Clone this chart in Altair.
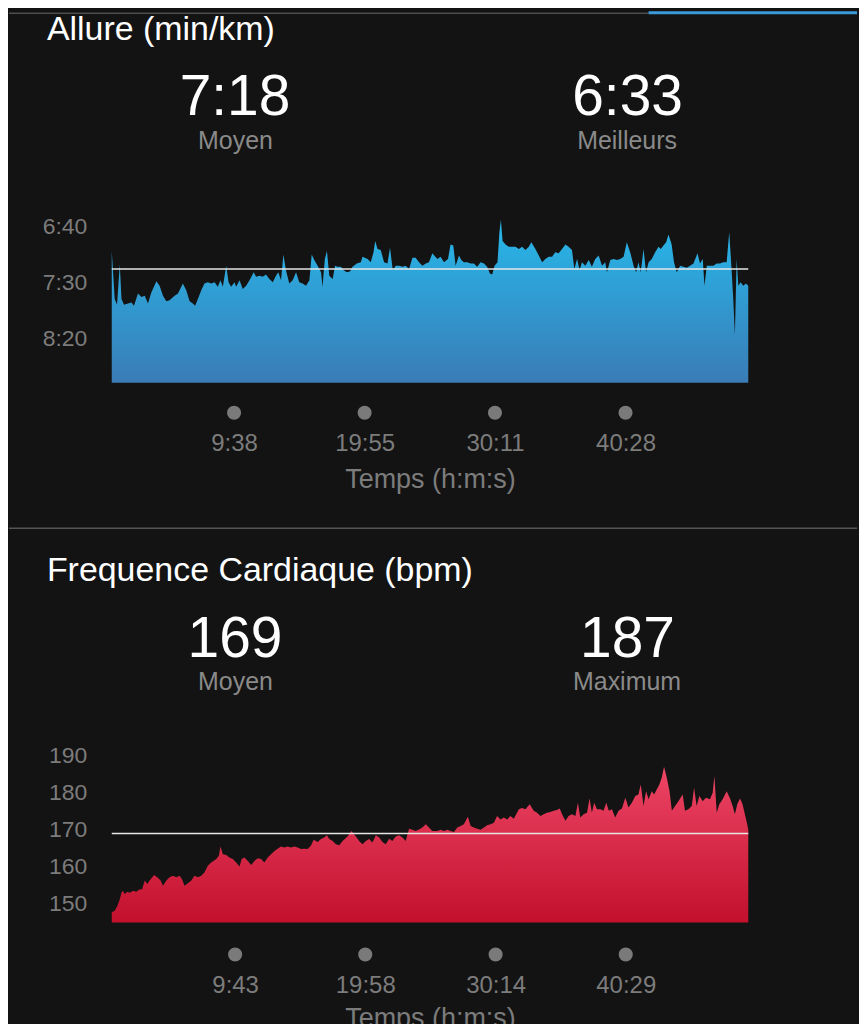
import altair as alt
import pandas as pd

FONT = "Liberation Sans"

# ---------------- data ----------------
# Pace: elapsed time (s) and pace (s per km)
PACE_T = [0, 14, 25, 38, 46, 58, 77, 93, 105, 124,
          140, 156, 171, 187, 211, 226, 242, 258, 273, 297,
          313, 336, 352, 368, 383, 394, 407, 423, 438, 454,
          470, 486, 501, 514, 525, 541, 552, 564, 580, 588,
          604, 619, 635, 651, 671, 682, 698, 713, 729, 745,
          761, 776, 787, 800, 811, 823, 839, 855, 871, 886,
          902, 918, 934, 945, 957, 973, 989, 996, 1007, 1017,
          1028, 1044, 1055, 1067, 1083, 1095, 1111, 1127, 1138, 1158,
          1177, 1185, 1209, 1224, 1237, 1245, 1256, 1271, 1287, 1303,
          1315, 1328, 1342, 1358, 1374, 1389, 1405, 1421, 1436, 1452,
          1468, 1484, 1499, 1515,
          1539, 1554, 1570, 1589, 1601, 1614, 1625, 1641, 1652, 1664,
          1680, 1696, 1711, 1727, 1743, 1759, 1774, 1787, 1798, 1809,
          1823, 1832, 1839, 1847, 1861, 1876, 1892, 1908, 1924, 1939,
          1955, 1971, 1983, 2002, 2018, 2034, 2049, 2065, 2081, 2096,
          2112, 2128, 2144, 2159, 2175, 2186, 2199, 2211, 2222, 2238,
          2254, 2269, 2285, 2301, 2317, 2332, 2340, 2356, 2372, 2387,
          2403, 2419, 2434, 2450, 2466, 2478, 2489, 2500, 2513, 2525,
          2537, 2552, 2568, 2584, 2595, 2607, 2620, 2631, 2646, 2657,
          2670, 2686, 2702, 2717, 2733, 2749, 2768, 2780, 2793, 2801,
          2812, 2824, 2843, 2859, 2874, 2890, 2906, 2918, 2929, 2937,
          2945, 2953, 2961, 2972, 2984, 2997, 3008]
PACE_V = [422, 465, 470, 434, 465, 470, 469, 468, 471, 460,
          463, 462, 469, 459, 449, 453, 462, 467, 466, 462,
          460, 451, 457, 467, 469, 471, 465, 457, 451, 450,
          451, 450, 454, 448, 454, 435, 450, 454, 450, 454,
          448, 456, 453, 448, 441, 445, 444, 445, 443, 447,
          450, 444, 441, 448, 425, 439, 451, 448, 441, 450,
          451, 453, 448, 425, 430, 435, 441, 454, 429, 422,
          444, 447, 435, 436, 436, 439, 441, 440, 436, 433,
          432, 427, 429, 432, 423, 413, 420, 421, 432, 433,
          419, 439, 435, 435, 436, 435, 438, 428, 428, 432,
          435, 433, 432, 424,
          429, 427, 432, 429, 416, 417, 435, 426, 430, 432,
          432, 433, 433, 436, 432, 433, 436, 442, 443, 435,
          432, 405, 394, 413, 416, 418, 418, 418, 420, 418,
          421, 418, 414, 420, 426, 432, 429, 427, 427, 423,
          424, 420, 416, 418, 421, 438, 429, 439, 432, 435,
          430, 436, 429, 426, 435, 432, 441, 430, 429, 430,
          429, 427, 414, 423, 435, 441, 432, 441, 420, 441,
          432, 429, 423, 418, 420, 417, 414, 407, 416, 432,
          441, 435, 436, 437, 435, 433, 424, 433, 429, 453,
          435, 435, 435, 433, 433, 432, 432, 405, 438, 465,
          497, 429, 453, 450, 453, 451, 453]

# Heart rate: elapsed time (s) and bpm
HR_T = [0, 14, 27, 38, 46, 53, 61, 74, 85, 101,
        116, 132, 143, 156, 168, 179, 200, 215, 231, 242,
        258, 273, 289, 305, 321, 332, 344, 360, 376, 391,
        407, 423, 438, 454, 470, 494, 506, 514, 525, 541,
        556, 572, 588, 604, 614, 627, 643, 659, 674, 690,
        706, 721, 737, 753, 769, 784, 800, 816, 831, 847,
        863, 879, 894, 910, 926, 941, 954, 973, 989, 1004,
        1017, 1028, 1044, 1059, 1075, 1091, 1114, 1133, 1154, 1169,
        1185, 1201, 1216, 1232, 1248, 1264, 1279, 1295, 1311, 1326,
        1342, 1358, 1374, 1389, 1405, 1421, 1436, 1452, 1468, 1484,
        1499, 1515,
        1539, 1554, 1570, 1586, 1601, 1617, 1633, 1649, 1664, 1683,
        1696, 1711, 1727, 1743, 1759, 1774, 1790, 1806, 1821, 1837,
        1853, 1869, 1884, 1900, 1924, 1939, 1955, 1975, 1994, 2010,
        2026, 2041, 2057, 2073, 2089, 2104, 2117, 2128, 2144, 2159,
        2175, 2191, 2203, 2214, 2230, 2246, 2258, 2269, 2280, 2293,
        2309, 2324, 2337, 2349, 2364, 2379, 2395, 2411, 2427, 2442,
        2458, 2474, 2489, 2500, 2513, 2525, 2537, 2552, 2563, 2576,
        2588, 2599, 2610, 2623, 2636, 2647, 2662, 2678, 2698, 2709,
        2725, 2741, 2752, 2764, 2777, 2793, 2808, 2827, 2840, 2848,
        2859, 2871, 2887, 2906, 2922, 2934, 2945, 2956, 2969, 2981,
        2992, 3003, 3008]
HR_V = [147.8, 148.2, 149.5, 151.3, 153.1, 153.6, 152.7, 153.3, 153.0, 153.6,
        153.3, 154.0, 153.9, 156.3, 155.4, 156.3, 157.8, 157.2, 156.3, 154.9,
        156.3, 157.2, 157.6, 157.2, 157.6, 156.7, 154.9, 155.6, 156.3, 157.6,
        157.2, 157.6, 158.5, 160.3, 161.2, 162.1, 163.0, 165.5, 163.4, 163.2,
        162.5, 162.1, 161.2, 160.1, 162.1, 162.5, 161.6, 160.5, 161.6, 162.3,
        162.1, 161.2, 162.5, 163.4, 164.3, 164.9, 165.5, 165.2, 165.5, 165.2,
        165.5, 165.2, 164.8, 164.9, 164.8, 165.7, 167.3, 166.7, 167.5, 167.9,
        168.5, 167.5, 167.0, 166.1, 165.8, 167.0, 168.2, 169.7, 168.2, 167.0,
        166.1, 167.0, 167.5, 166.6, 168.5, 167.9, 166.7, 166.1, 167.6, 167.0,
        168.2, 168.5, 167.9, 167.0, 170.3, 170.0, 169.7, 170.1, 170.6, 171.5,
        170.6, 169.7,
        169.7, 170.0, 169.7, 170.0, 169.7, 169.4, 170.6, 171.0, 171.5, 173.5,
        171.0, 170.6, 170.3, 170.0, 170.6, 171.2, 171.5, 171.9, 173.7, 172.8,
        173.3, 172.8, 173.7, 173.0, 175.5, 175.9, 175.5, 176.9, 175.1, 174.6,
        173.7, 174.2, 174.6, 174.8, 175.1, 175.3, 175.7, 174.2, 172.4, 173.7,
        174.2, 173.7, 177.3, 173.3, 174.2, 174.6, 178.4, 174.6, 177.3, 175.5,
        175.5, 175.1, 177.3, 175.1, 175.5, 173.3, 175.1, 175.7, 178.6, 176.0,
        177.3, 179.1, 179.5, 182.2, 176.4, 180.4, 178.2, 180.4, 179.5, 180.9,
        182.2, 184.0, 187.0, 184.0, 180.4, 175.1, 176.4, 177.7, 179.5, 175.1,
        175.5, 176.4, 181.3, 176.4, 179.1, 177.7, 178.6, 178.2, 180.0, 184.5,
        174.6, 176.9, 178.2, 180.4, 178.4, 176.4, 174.2, 176.9, 178.4, 176.9,
        174.2, 171.5, 170.1]

DURATION = 3008
PACE_X_TICKS = [578, 1195, 1811, 2428]
HR_X_TICKS = [583, 1198, 1814, 2429]
PACE_Y_TICKS = [400, 450, 500]
HR_Y_TICKS = [150, 160, 170, 180, 190]
PACE_DOMAIN = [380, 540]
HR_DOMAIN = [145, 195]
PACE_AVG = 438
HR_AVG = 169
PACE_TITLE = "Allure (min/km)"
HR_TITLE = "Frequence Cardiaque (bpm)"
PACE_STATS = ["7:18", "6:33"]
PACE_STAT_NAMES = ["Moyen", "Meilleurs"]
HR_STATS = ["169", "187"]
HR_STAT_NAMES = ["Moyen", "Maximum"]
X_TITLE = "Temps (h:m:s)"

# ---------------- styling ----------------
BG = "#131313"
GREY_TXT = "#8a8a8a"
AXIS_TXT = "#7c7c7c"
W = 638
H1 = 179
H2 = 186
FMT = "floor(datum.value/60) + ':' + (datum.value % 60 < 10 ? '0' : '') + (datum.value % 60)"


def txt(s, x, y, size, color, align="left"):
    return alt.Chart(pd.DataFrame({"s": [s]})).mark_text(
        font=FONT, fontSize=size, color=color, align=align, baseline="alphabetic"
    ).encode(x=alt.value(x), y=alt.value(y), text="s:N")


def hline(x0, x1, y, color, width):
    return alt.Chart(pd.DataFrame({"a": [0]})).mark_rule(
        color=color, strokeWidth=width
    ).encode(x=alt.value(x0), x2=alt.value(x1), y=alt.value(y))


def x_enc(ticks, title_y):
    return alt.X(
        "t:Q",
        scale=alt.Scale(domain=[0, DURATION], nice=False, zero=False),
        axis=alt.Axis(values=ticks, labelExpr=FMT, ticks=False, tickSize=0, domain=False,
                      grid=False, labelFont=FONT, labelFontSize=24, labelColor=AXIS_TXT,
                      labelPadding=title_y[0], labelFlush=False,
                      title=X_TITLE, titleFont=FONT, titleFontSize=27,
                      titleFontWeight="normal", titleColor=AXIS_TXT, titleX=W / 2,
                      titleY=title_y[1], titleAlign="center", titleBaseline="alphabetic"),
    )


def panel(df, field, domain, reverse, yticks, ylabel_expr, xticks, xpad, h, avg,
          grad, title, stats, names, hdr, dot_y):
    yaxis = dict(values=yticks, ticks=False, tickSize=0, domain=False, grid=False,
                 labelFont=FONT, labelFontSize=23, labelColor=AXIS_TXT, labelPadding=25,
                 title=None)
    if ylabel_expr:
        yaxis["labelExpr"] = ylabel_expr
    y = alt.Y(f"{field}:Q",
              scale=alt.Scale(domain=domain, reverse=reverse, nice=False, zero=False),
              axis=alt.Axis(**yaxis))
    base_bottom = domain[1] if reverse else domain[0]
    xe = x_enc(xticks, xpad)
    area = alt.Chart(df).mark_area(
        interpolate="linear",
        color=alt.Gradient(gradient="linear",
                           stops=[alt.GradientStop(color=grad[0], offset=0),
                                  alt.GradientStop(color=grad[1], offset=1)],
                           x1=1, x2=1, y1=0, y2=1),
    ).encode(x=xe, y=y, y2=alt.datum(base_bottom))
    rule = alt.Chart(pd.DataFrame({"a": [0]})).mark_rule(
        color="#e6e6e6", strokeWidth=1.5
    ).encode(y=alt.datum(avg))
    dots = alt.Chart(pd.DataFrame({"t": xticks})).mark_circle(
        size=200, color="#7a7a7a", opacity=1
    ).encode(x=xe, y=alt.value(h + dot_y))
    layers = [area, rule, dots,
              txt(title, -65, hdr[0], 34, "#ffffff"),
              txt(stats[0], 123.5, hdr[1], 57, "#ffffff", "center"),
              txt(stats[1], 517, hdr[1], 57, "#ffffff", "center"),
              txt(names[0], 124, hdr[2], 25, GREY_TXT, "center"),
              txt(names[1], 516.5, hdr[2], 25, GREY_TXT, "center")]
    return layers


pace_df = pd.DataFrame({"t": PACE_T, "pace": PACE_V})
hr_df = pd.DataFrame({"t": HR_T, "hr": HR_V})

p1_layers = panel(pace_df, "pace", PACE_DOMAIN, True, PACE_Y_TICKS, FMT, PACE_X_TICKS,
                  (48.5, 104.7), H1, PACE_AVG, ("#27b8ea", "#3a7cb6"), PACE_TITLE,
                  PACE_STATS, PACE_STAT_NAMES, (-164.7, -89.5, -55.3), 30)
p1_layers += [
    hline(-103, 538, -191.5, "#6a6a6a", 1),
    hline(538, 747, -192, "#3b9bd8", 3),
    hline(-103, 747, 324.7, "#555555", 1.5),
]
panel1 = alt.layer(*p1_layers).properties(width=W, height=H1)

p2_layers = panel(hr_df, "hr", HR_DOMAIN, False, HR_Y_TICKS, None, HR_X_TICKS,
                  (50.8, 104), H2, HR_AVG, ("#ee4666", "#c2102d"), HR_TITLE,
                  HR_STATS, HR_STAT_NAMES, (-156.3, -80.3, -47.5), 32)
panel2 = alt.layer(*p2_layers).properties(width=W, height=H2)

chart = alt.vconcat(panel1, panel2, spacing=355, bounds="flush").properties(
    background=BG,
    padding={"left": 0, "top": 1.5, "right": 0, "bottom": 0},
).configure_view(strokeWidth=0)

chart.save("out.html", embed_options={"renderer": "svg", "actions": False})
